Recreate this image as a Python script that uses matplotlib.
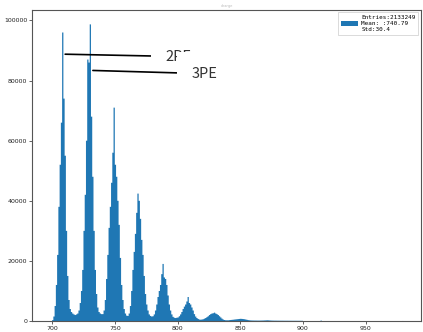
import matplotlib
matplotlib.use("Agg")
import matplotlib.pyplot as plt
import numpy as np

# Histogram: bin left edges (width 1) and counts
bin_start = 700
counts = [
    # 700-719
    300, 1500, 5000, 12000, 22000, 38000, 52000, 66000, 96000, 74000,
    55000, 30000, 15000, 7000, 4000, 3000, 2500, 2200, 2000, 2200,
    # 720-739
    2500, 3500, 6000, 10000, 17000, 30000, 42000, 60000, 87000, 86000,
    98700, 68000, 48000, 30000, 17000, 9000, 4500, 3000, 2500, 2300,
    # 740-759
    2300, 3500, 7000, 14000, 22000, 31000, 38000, 46000, 56000, 71000,
    52000, 48000, 40000, 32000, 21000, 12000, 7000, 4000, 2500, 1800,
    # 760-779
    1700, 2500, 5000, 10000, 17000, 23000, 29000, 36000, 42400, 40000,
    34000, 27000, 22000, 15000, 9000, 5500, 3500, 2200, 1700, 1500,
    # 780-799
    1600, 2200, 3500, 5500, 8000, 10000, 12000, 15600, 19000, 14500,
    14000, 12000, 8500, 5500, 3500, 2200, 1400, 1100, 1000, 1100,
    # 800-819
    1200, 1600, 2200, 3000, 4000, 4800, 5500, 6500, 8000, 6000,
    5500, 4500, 3500, 2300, 1500, 1000, 700, 500, 450, 500,
    # 820-839
    600, 800, 1000, 1300, 1600, 2000, 2300, 2500, 2600, 2800,
    2500, 2300, 2000, 1600, 1200, 800, 500, 350, 250, 250,
    # 840-859
    250, 300, 350, 400, 450, 500, 550, 600, 650, 700,
    750, 700, 650, 600, 500, 400, 300, 250, 200, 180,
    # 860-879
    170, 160, 160, 150, 150, 150, 160, 170, 180, 200,
    220, 250, 230, 200, 170, 150, 140, 130, 130, 120,
    # 880-899
    120, 115, 110, 110, 105, 100, 100, 100, 95, 95,
    95, 90, 90, 90, 90, 85, 85, 85, 80, 80,
    # 900-919
    0, 0, 0, 0, 0, 0, 0, 0, 0, 0,
    0, 0, 0, 0, 150, 0, 0, 0, 0, 0,
    # 920-979
    0, 0, 0, 0, 0, 0, 0, 0, 0, 0,
    0, 0, 0, 0, 0, 0, 0, 0, 0, 0,
    0, 0, 0, 0, 0, 0, 0, 0, 0, 0,
    0, 0, 0, 0, 0, 0, 0, 0, 0, 0,
    0, 0, 0, 0, 0, 0, 0, 0, 0, 0,
    0, 0, 0, 0, 0, 0, 0, 0, 0, 20,
]
legend_label = "Entries:2133249\nMean: :740.79\nStd:30.4"
title_text = "charge"

xticks = [700, 750, 800, 850, 900, 950]
yticks = [0, 20000, 40000, 60000, 80000, 100000]

annotations = [
    ("2PE", 708.2, 88800, 790.5, 88000),
    ("3PE", 730.3, 83400, 811.0, 82300),
]

edges = bin_start + np.arange(len(counts) + 1)
centers = edges[:-1] + 0.5

fig = plt.figure(figsize=(4.23, 3.32), dpi=100)
ax = fig.add_axes([0.0757, 0.033, 0.9193, 0.937])

ax.hist(centers, bins=edges, weights=counts, color="#1f77b4",
        histtype="stepfilled", label=legend_label)

ax.set_xlim(684, 994)
ax.set_ylim(0, 103500)
ax.set_xticks(xticks)
ax.set_yticks(yticks)
ax.tick_params(labelsize=4.5, length=2, width=0.5, pad=1.5, colors="#222222")
for s in ax.spines.values():
    s.set_linewidth(0.8)
    s.set_color("#555555")

ax.set_title(title_text, fontsize=2.5, color="#bbbbbb", pad=2)

for txt, x0, y0, x1, y1 in annotations:
    ax.annotate(txt, xy=(x0, y0), xytext=(x1, y1), ha="left", va="center",
                fontsize=10.5, family=["Noto Sans CJK SC", "DejaVu Sans"],
                fontweight="light", color="#333333",
                bbox=dict(boxstyle="square,pad=1.0", fc="white", ec="none"),
                arrowprops=dict(arrowstyle="-", color="black", lw=1.2,
                                shrinkA=0, shrinkB=2))

leg = ax.legend(loc="upper right",
                prop={"family": "DejaVu Sans Mono", "size": 4.3},
                handlelength=2.8, handleheight=1.0, borderpad=0.5,
                handletextpad=0.6, borderaxespad=0.4,
                framealpha=1, fancybox=False, edgecolor="#cccccc")
leg.get_frame().set_linewidth(0.5)

fig.savefig("out.png", dpi=100)
